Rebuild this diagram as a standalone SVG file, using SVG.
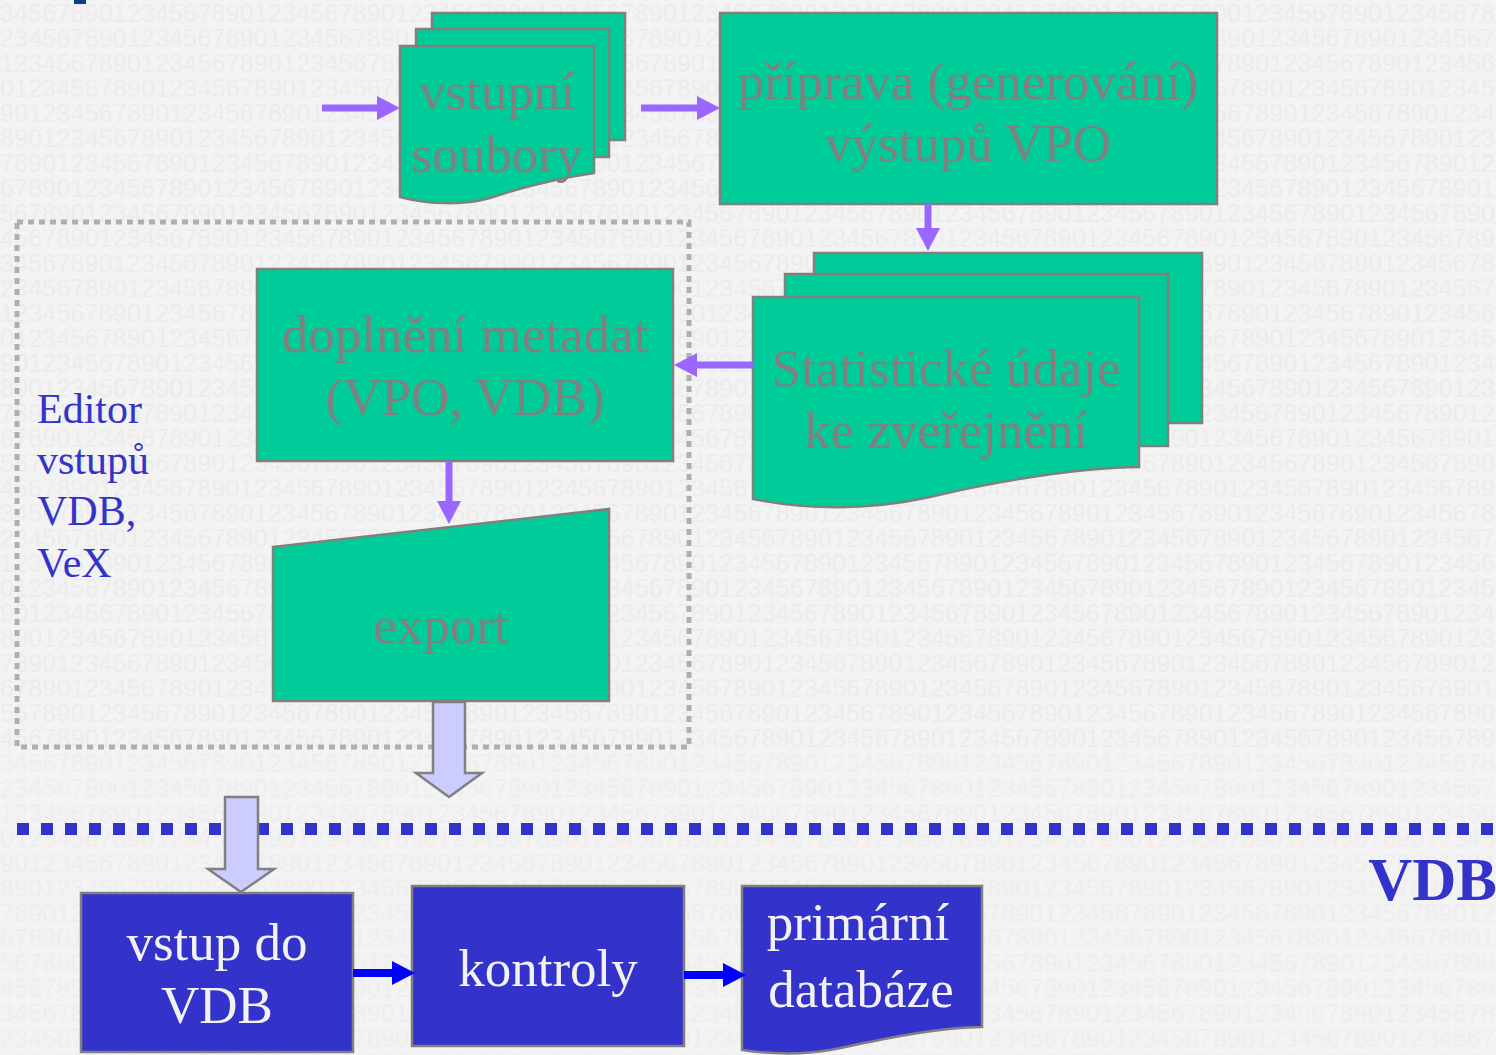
<svg xmlns="http://www.w3.org/2000/svg" xmlns:xlink="http://www.w3.org/1999/xlink" width="1496" height="1055" viewBox="0 0 1496 1055">
<style>
.bgd{font-family:"Liberation Sans",Arial,sans-serif;font-size:25px;letter-spacing:0.2px}
.g{fill:#00CC99;stroke:#808080;stroke-width:2.5}
.b{fill:#3333CC;stroke:#808080;stroke-width:2.5}
.t{font-family:"Liberation Serif","Times New Roman",serif;font-size:53px;text-anchor:middle}
.tg{fill:#808080}
.tw{fill:#F2F2F2}
.ed{font-family:"Liberation Serif","Times New Roman",serif;font-size:42px;fill:#3333CC}
.pa{stroke:#9966FF;stroke-width:7;fill:none}
.ba{stroke:#0000FF;stroke-width:8;fill:none}
.ha{fill:#CCCCFF;stroke:#808080;stroke-width:2.5}
</style>
<defs>
<marker id="mp" markerUnits="userSpaceOnUse" viewBox="0 0 23 24" markerWidth="23" markerHeight="24" refX="0" refY="12" orient="auto"><path d="M0,0 L23,12 L0,24 Z" fill="#9966FF"/></marker>
<marker id="mb" markerUnits="userSpaceOnUse" viewBox="0 0 23 24" markerWidth="23" markerHeight="24" refX="0" refY="12" orient="auto"><path d="M0,0 L23,12 L0,24 Z" fill="#0000FF"/></marker>
<text id="dg" class="bgd">123456789012345678901234567890123456789012345678901234567890123456789012345678901234567890123456789012345678901234567890</text>
<g id="blk">
<use xlink:href="#dg" x="-28.2" y="22"/>
<use xlink:href="#dg" x="-14.1" y="47"/>
<use xlink:href="#dg" x="0" y="72"/>
<use xlink:href="#dg" x="-126.9" y="97"/>
<use xlink:href="#dg" x="-112.8" y="122"/>
<use xlink:href="#dg" x="-98.7" y="147"/>
<use xlink:href="#dg" x="-84.6" y="172"/>
<use xlink:href="#dg" x="-70.5" y="197"/>
<use xlink:href="#dg" x="-56.4" y="222"/>
<use xlink:href="#dg" x="-42.3" y="247"/>
</g>
</defs>

<g id="background">
<rect x="0" y="0" width="1496" height="1055" fill="#F3F3F3"/>
<g fill="#ECECEC">
<use xlink:href="#blk" x="0" y="0"/>
<use xlink:href="#blk" x="0" y="250"/>
<use xlink:href="#blk" x="0" y="500"/>
</g>
<g fill="#EEEEEE">
<use xlink:href="#blk" x="0" y="750"/>
<use xlink:href="#blk" x="0" y="1000"/>
</g>
<rect x="74" y="0" width="12" height="4" fill="#0B3D91"/>
</g>

<g id="editor-region">
<rect x="17" y="222" width="672" height="525" fill="none" stroke="#AFAFAF" stroke-width="5" stroke-dasharray="6 5"/>
<text class="ed" x="37" y="423">Editor</text>
<text class="ed" x="37" y="474">vstupů</text>
<text class="ed" x="37" y="525">VDB,</text>
<text class="ed" x="37" y="577">VeX</text>
</g>

<g id="separator">
<line x1="17" y1="829" x2="1496" y2="829" stroke="#3333CC" stroke-width="12" stroke-dasharray="12 12"/>
<text x="1497" y="900" text-anchor="end" style="font-family:'Liberation Serif','Times New Roman',serif;font-size:61px;font-weight:bold;fill:#3333CC">VDB</text>
</g>

<g id="node-vstupni-soubory">
<rect class="g" x="432" y="13" width="193" height="127"/>
<rect class="g" x="416" y="29" width="193" height="128"/>
<path class="g" d="M400,46 H594 V173 C560,178 520,188 490,198 C465,205 430,205 400,197 Z"/>
<text class="t tg" x="497" y="109">vstupní</text>
<text class="t tg" x="497" y="172">soubory</text>
</g>

<g id="node-priprava">
<rect class="g" x="720" y="13" width="497" height="191"/>
<text class="t tg" x="968" y="99">příprava (generování)</text>
<text class="t tg" x="968" y="161">výstupů VPO</text>
</g>

<g id="node-statisticke-udaje">
<rect class="g" x="814" y="253" width="388" height="170"/>
<rect class="g" x="785" y="274" width="383" height="172"/>
<path class="g" d="M753,297 H1139 V467 C1080,468 1000,480 930,497 C880,508 820,512 753,499 Z"/>
<text class="t tg" x="946" y="386">Statistické údaje</text>
<text class="t tg" x="946" y="448">ke zveřejnění</text>
</g>

<g id="node-doplneni">
<rect class="g" x="257" y="269" width="416" height="192"/>
<text class="t tg" x="465" y="352">doplnění metadat</text>
<text class="t tg" x="465" y="415">(VPO, VDB)</text>
</g>

<g id="node-export">
<polygon class="g" points="273,547 609,509 609,701 273,701"/>
<text class="t tg" x="441" y="643">export</text>
</g>

<g id="node-vstup-do-vdb">
<rect class="b" x="81" y="893" width="272" height="159"/>
<text class="t tw" x="217" y="960">vstup do</text>
<text class="t tw" x="217" y="1023">VDB</text>
</g>

<g id="node-kontroly">
<rect class="b" x="412" y="886" width="272" height="160"/>
<text class="t tw" x="548" y="986">kontroly</text>
</g>

<g id="node-primarni-databaze">
<path class="b" d="M742,886 H982 V1027 C930,1028 880,1040 830,1050 C800,1055 770,1054 742,1050 Z"/>
<text class="t tw" x="858" y="940">primární</text>
<text class="t tw" x="861" y="1007">databáze</text>
</g>

<g id="connectors">
<line class="pa" x1="322" y1="108" x2="377" y2="108" marker-end="url(#mp)"/>
<line class="pa" x1="641" y1="108" x2="697" y2="108" marker-end="url(#mp)"/>
<line class="pa" x1="928" y1="204" x2="928" y2="228" marker-end="url(#mp)"/>
<line class="pa" x1="753" y1="365" x2="697" y2="365" marker-end="url(#mp)"/>
<line class="pa" x1="449" y1="461" x2="449" y2="501" marker-end="url(#mp)"/>
<polygon class="ha" points="433,702 465,702 465,773 482,773 449,797 416,773 433,773"/>
<polygon class="ha" points="225,797 258,797 258,869 274,869 241,892 208,869 225,869"/>
<line class="ba" x1="353" y1="973" x2="392" y2="973" marker-end="url(#mb)"/>
<line class="ba" x1="684" y1="975" x2="723" y2="975" marker-end="url(#mb)"/>
</g>
</svg>
